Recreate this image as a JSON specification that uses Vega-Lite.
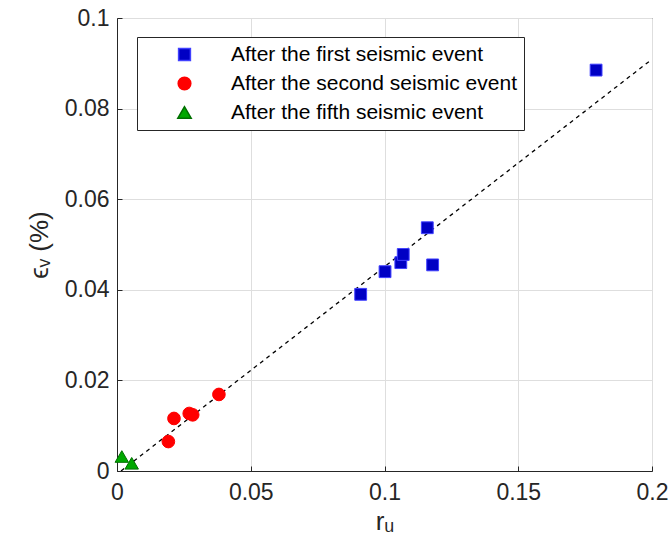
{
  "$schema": "https://vega.github.io/schema/vega-lite/v6.json",
  "width": 535,
  "height": 453,
  "autosize": {"type": "none"},
  "padding": {"left": 117, "top": 18, "right": 18, "bottom": 78},
  "background": "white",
  "config": {
    "font": "Liberation Sans",
    "view": {"stroke": "#262626", "strokeWidth": 1},
    "axis": {
      "domainColor": "#262626",
      "gridColor": "#dedede",
      "gridWidth": 1,
      "tickColor": "#262626",
      "tickSize": -5,
      "labelFlush": false,
      "labelColor": "#262626",
      "labelFontSize": 23,
      "labelFont": "Liberation Sans",
      "titleColor": "#262626",
      "titleFont": "Liberation Sans",
      "titleFontWeight": "normal",
      "titleFontSize": 26
    },
    "legend": {
      "labelFont": "Liberation Sans"
    }
  },
  "datasets": {
    "fit": [
      {"ru": 0.0015, "ev": 0.0},
      {"ru": 0.2, "ev": 0.0909}
    ],
    "pts": [
      {"series": "After the first seismic event", "ru": 0.1791, "ev": 0.0885},
      {"series": "After the first seismic event", "ru": 0.0911, "ev": 0.0390},
      {"series": "After the first seismic event", "ru": 0.1002, "ev": 0.0440},
      {"series": "After the first seismic event", "ru": 0.1061, "ev": 0.0460},
      {"series": "After the first seismic event", "ru": 0.1070, "ev": 0.0478},
      {"series": "After the first seismic event", "ru": 0.1160, "ev": 0.0537},
      {"series": "After the first seismic event", "ru": 0.1180, "ev": 0.0455},
      {"series": "After the second seismic event", "ru": 0.0192, "ev": 0.0065},
      {"series": "After the second seismic event", "ru": 0.0213, "ev": 0.0116},
      {"series": "After the second seismic event", "ru": 0.0270, "ev": 0.0127},
      {"series": "After the second seismic event", "ru": 0.0283, "ev": 0.0124},
      {"series": "After the second seismic event", "ru": 0.0381, "ev": 0.0169},
      {"series": "After the fifth seismic event", "ru": 0.0018, "ev": 0.0032},
      {"series": "After the fifth seismic event", "ru": 0.0055, "ev": 0.0017}
    ]
  },
  "layer": [
    {
      "data": {"name": "fit"},
      "mark": {"type": "line", "color": "#000000", "strokeWidth": 1.3, "strokeDash": [4, 4], "clip": true},
      "encoding": {
        "x": {
          "field": "ru", "type": "quantitative",
          "scale": {"domain": [0, 0.2], "nice": false, "zero": false},
          "axis": {"values": [0, 0.05, 0.1, 0.15, 0.2], "format": "~g", "title": "rᵤ", "titlePadding": 4, "labelPadding": 15}
        },
        "y": {
          "field": "ev", "type": "quantitative",
          "scale": {"domain": [0, 0.1], "nice": false, "zero": false},
          "axis": {"values": [0, 0.02, 0.04, 0.06, 0.08, 0.1], "format": "~g", "title": "ϵᵥ (%)", "titlePadding": 12, "labelPadding": 13}
        }
      }
    },
    {
      "data": {"name": "pts"},
      "mark": {"type": "point", "filled": true, "opacity": 1, "strokeWidth": 1, "clip": false},
      "encoding": {
        "x": {"field": "ru", "type": "quantitative"},
        "y": {"field": "ev", "type": "quantitative"},
        "color": {
          "field": "series", "type": "nominal",
          "scale": {
            "domain": ["After the first seismic event", "After the second seismic event", "After the fifth seismic event"],
            "range": ["#0000c4", "#ff0000", "#00a800"]
          },
          "legend": {
            "title": null,
            "orient": "none",
            "legendX": 20,
            "legendY": 19,
            "labelFontSize": 21,
            "labelLimit": 0,
            "labelColor": "#000000",
            "labelOffset": 36,
            "symbolOffset": 30,
            "padding": 7,
            "rowPadding": 7,
            "strokeColor": "#262626",
            "fillColor": "white",
            "symbolOpacity": 1
          }
        },
        "shape": {
          "field": "series", "type": "nominal",
          "scale": {
            "domain": ["After the first seismic event", "After the second seismic event", "After the fifth seismic event"],
            "range": ["square", "circle", "triangle-up"]
          }
        },
        "size": {
          "field": "series", "type": "nominal",
          "scale": {
            "domain": ["After the first seismic event", "After the second seismic event", "After the fifth seismic event"],
            "range": [140, 180, 220]
          }
        },
        "stroke": {
          "field": "series", "type": "nominal",
          "scale": {
            "domain": ["After the first seismic event", "After the second seismic event", "After the fifth seismic event"],
            "range": ["#4040ff", "#ff0000", "#007000"]
          }
        }
      }
    }
  ]
}
